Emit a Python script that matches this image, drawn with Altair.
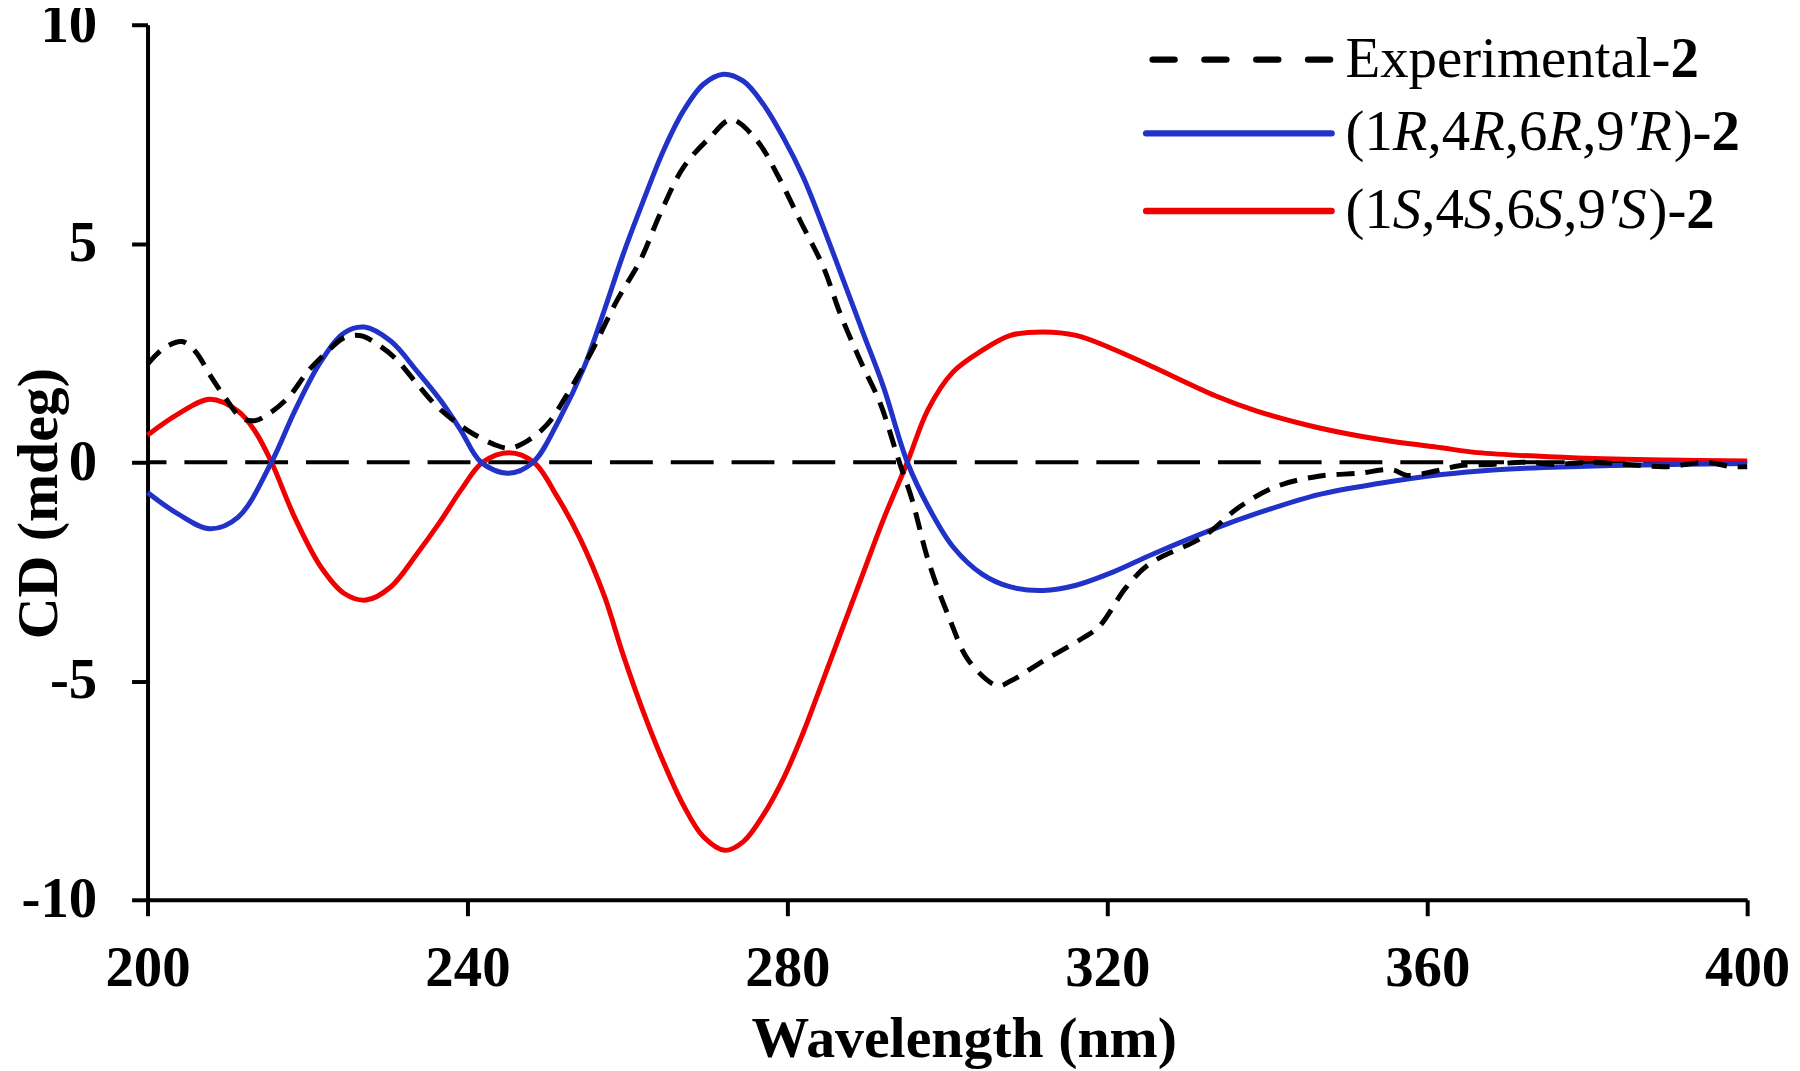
import altair as alt
import pandas as pd

# ---------------- data ----------------
wl_exp = [200, 202, 204.3, 205.9, 208, 209.7, 211.7, 213.4, 215.1, 217.6, 220.1, 222.6,
          224.6, 226.7, 228.8, 230.9, 233.4, 235.9, 238.3, 240.8, 243.3, 245.2, 247.5,
          250, 252.3, 255.4, 258.7, 261.6, 264.1, 267, 270.3, 273, 276.2, 278.7, 281.6,
          284.5, 286.6, 289.1, 291.6, 294, 295.6, 297.6, 300.2, 302.7, 306.3, 307.9,
          312, 317.1, 319, 322.4, 325.3, 332, 336.6, 341.2, 346.4, 351.5, 355.6, 357.5,
          361, 364, 368, 372, 376, 380, 385, 390, 395, 398, 400]
cd_exp = [2.24, 2.6, 2.76, 2.55, 1.94, 1.48, 1.02, 0.95, 1.1, 1.48, 2.09, 2.55,
          2.85, 2.89, 2.69, 2.39, 1.86, 1.33, 0.95, 0.64, 0.41, 0.32, 0.49,
          0.87, 1.5, 2.49, 3.70, 4.61, 5.68, 6.74, 7.42, 7.83, 7.35, 6.59, 5.52,
          4.46, 3.4, 2.33, 1.35, 0.0, -0.86, -2.24, -3.54, -4.54, -5.11, -5.0,
          -4.54, -4.0, -3.75, -2.85, -2.32, -1.70, -1.01, -0.55, -0.32, -0.25, -0.17, -0.3,
          -0.2, -0.08, -0.05, 0.0, -0.05, 0.0, -0.05, -0.1, 0.0, -0.1, -0.1]

wl_R = [200, 203.8, 207.8, 211.3, 215.5, 218.4, 221.7, 224.6, 227.1, 230.4, 233.7,
        236.7, 239.2, 241.7, 245.1, 248.2, 251.4, 254.6, 257.1, 259.5, 262, 264.5,
        267, 269.5, 272, 274.5, 277, 279.5, 282, 284.5, 287, 289.5, 292, 295.0,
        297.6, 300.7, 304.3, 307.9, 312, 316.1, 320.7, 325.8, 333.5, 338.7, 346.4,
        354.1, 361.8, 367.8, 374.6, 387, 400]
cd_R = [-0.69, -1.18, -1.52, -1.26, 0.0, 1.17, 2.31, 2.96, 3.09, 2.77, 2.08,
        1.40, 0.72, 0.0, -0.25, 0.0, 0.95, 2.18, 3.47, 4.77, 5.98, 7.12,
        8.03, 8.64, 8.87, 8.71, 8.18, 7.42, 6.51, 5.37, 4.16, 2.94, 1.73, 0.0,
        -1.01, -1.93, -2.55, -2.85, -2.93, -2.81, -2.51, -2.09, -1.51, -1.17, -0.74,
        -0.48, -0.28, -0.18, -0.12, -0.06, -0.03]

wl_S = [200, 203.8, 207.8, 211.3, 213.4, 215.5, 218.4, 221.7, 224.6, 227.3, 230.4,
        233.7, 236.5, 239.2, 241.9, 245.2, 248.3, 251.2, 254.1, 257.1, 259.5, 262,
        264.5, 267, 269.5, 272.2, 274.5, 277, 279.5, 282, 284.5, 287, 289.5, 292,
        295.0, 297.6, 300.7, 304.3, 307.9, 312, 316.1, 320.7, 325.8, 333.5, 338.7,
        346.4, 354.1, 361.8, 366.3, 378.8, 390, 400]
cd_S = [0.62, 1.1, 1.44, 1.17, 0.72, 0.0, -1.26, -2.4, -3.0, -3.15, -2.85,
        -2.09, -1.38, -0.63, 0.0, 0.22, 0.0, -0.78, -1.75, -3.05, -4.42, -5.71,
        -6.85, -7.84, -8.56, -8.87, -8.67, -8.06, -7.23, -6.17, -4.96, -3.74, -2.52, -1.31,
        0.0, 1.21, 2.06, 2.55, 2.90, 2.98, 2.9, 2.59, 2.17, 1.52, 1.17,
        0.79, 0.52, 0.33, 0.22, 0.10, 0.05, 0.03]

x_ticks = [200, 240, 280, 320, 360, 400]
y_ticks = [-10, -5, 0, 5, 10]

legend_rows = [
    [("Experimental-", "normal"), ("2", "bold")],
    [("(1", "normal"), ("R", "italic"), (",4", "normal"), ("R", "italic"), (",6", "normal"),
     ("R", "italic"), (",9", "normal"), ("\u2032R", "italic"), (")-", "normal"), ("2", "bold")],
    [("(1", "normal"), ("S", "italic"), (",4", "normal"), ("S", "italic"), (",6", "normal"),
     ("S", "italic"), (",9", "normal"), ("\u2032S", "italic"), (")-", "normal"), ("2", "bold")],
]

# ---------------- style ----------------
FONT = "Liberation Serif"
BLUE = "#2132C8"
RED = "#F00000"
W, H = 1605, 878
CURVE = "catmull-rom"

x_enc = alt.X("wl:Q", scale=alt.Scale(domain=[200, 400], nice=False, zero=False),
              axis=alt.Axis(values=x_ticks, title="Wavelength (nm)", labelPadding=25,
                            labelFlush=False,
                            labelExpr="toString(datum.value)",
                            titleX=819, titleY=157, titleAlign="center",
                            titleBaseline="alphabetic"))
y_enc = alt.Y("cd:Q", scale=alt.Scale(domain=[-10, 10], nice=False),
              axis=alt.Axis(values=y_ticks, title="CD (mdeg)", labelPadding=35,
                            labelExpr="toString(datum.value)",
                            titleX=-91, titleY=480, titleAlign="center",
                            titleAngle=-90, titleBaseline="alphabetic"))

df_exp = pd.DataFrame({"wl": wl_exp, "cd": cd_exp})
df_R = pd.DataFrame({"wl": wl_R, "cd": cd_R})
df_S = pd.DataFrame({"wl": wl_S, "cd": cd_S})
one = pd.DataFrame({"k": [0]})

zero_line = alt.Chart(pd.DataFrame({"cd": [0]})).mark_rule(
    color="black", strokeWidth=4, strokeDash=[43, 18]).encode(y=y_enc)

line_S = alt.Chart(df_S).mark_line(color=RED, strokeWidth=5, interpolate=CURVE).encode(x=x_enc, y=y_enc)
line_R = alt.Chart(df_R).mark_line(color=BLUE, strokeWidth=5, interpolate=CURVE).encode(x=x_enc, y=y_enc)
line_E = alt.Chart(df_exp).mark_line(color="black", strokeWidth=5, strokeDash=[18, 11],
                                     interpolate=CURVE).encode(x=x_enc, y=y_enc)

# ---------------- legend (drawn by hand for mixed font styles) ----------------
widths = {"(": 333, ")": 333, ",": 250, "-": 333, "1": 500, "2": 500, "4": 500, "6": 500,
          "9": 500, "E": 611, "x": 500, "p": 500, "e": 444, "r": 333, "i": 278, "m": 778,
          "n": 500, "t": 278, "a": 444, "l": 278, "R": 611, "S": 500, "\u2032": 250}
LFS = 57
leg_x_line0, leg_x_line1 = 1002, 1188
leg_text_x = 1202
row_line_y = [35, 109, 187]
row_base_y = [52, 126, 204]

legend_layers = []
legend_layers.append(alt.Chart(one).mark_rule(
    color="black", strokeWidth=6.5, strokeCap="round", strokeDash=[22, 30]).encode(
    x=alt.value(1008.5), x2=alt.value(1186.5), y=alt.value(row_line_y[0])))
legend_layers.append(alt.Chart(one).mark_rule(
    color=BLUE, strokeWidth=6.5, strokeCap="round").encode(
    x=alt.value(leg_x_line0), x2=alt.value(leg_x_line1), y=alt.value(row_line_y[1])))
legend_layers.append(alt.Chart(one).mark_rule(
    color=RED, strokeWidth=6.5, strokeCap="round").encode(
    x=alt.value(leg_x_line0), x2=alt.value(leg_x_line1), y=alt.value(row_line_y[2])))

for r, pieces in enumerate(legend_rows):
    cx = leg_text_x
    for txt, style in pieces:
        kw = dict(font=FONT, fontSize=LFS, align="left", baseline="alphabetic",
                  color="black", text=txt)
        if style == "bold":
            kw["fontWeight"] = "bold"
        if style == "italic":
            kw["fontStyle"] = "italic"
        legend_layers.append(alt.Chart(one).mark_text(**kw).encode(
            x=alt.value(cx), y=alt.value(row_base_y[r])))
        cx += sum(widths.get(ch, 500) for ch in txt) * LFS / 1000.0

chart = alt.layer(zero_line, line_S, line_R, line_E, *legend_layers).properties(
    width=W, height=H,
    autosize=alt.AutoSizeParams(type="none"),
    padding={"left": 140, "top": 15, "right": 45, "bottom": 175},
    background="white",
).configure_view(stroke=None).configure_axis(
    grid=False,
    domainColor="black", domainWidth=4,
    tickColor="black", tickWidth=4, tickSize=16,
    labelFont=FONT, labelFontSize=57, labelFontWeight="bold", labelColor="black",
    titleFont=FONT, titleFontSize=58, titleFontWeight="bold", titleColor="black",
)

chart.save("out.html", embed_options={"renderer": "svg", "actions": False})
